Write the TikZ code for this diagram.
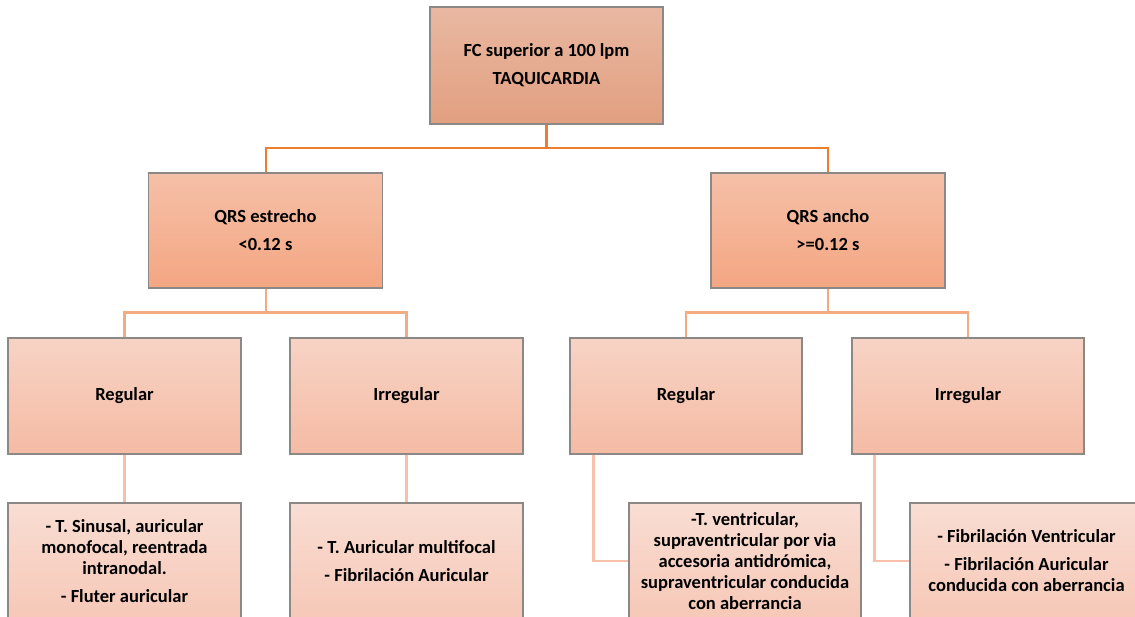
\documentclass[tikz,border=0pt]{standalone}
\usepackage{fontspec}
\setmainfont{Carlito}
\definecolor{t1a}{RGB}{233,184,162}
\definecolor{t1b}{RGB}{226,159,128}
\definecolor{t2a}{RGB}{245,192,168}
\definecolor{t2b}{RGB}{244,166,130}
\definecolor{t3a}{RGB}{247,211,197}
\definecolor{t3b}{RGB}{245,187,164}
\definecolor{t4a}{RGB}{249,221,211}
\definecolor{t4b}{RGB}{246,200,183}
\definecolor{bord}{RGB}{140,136,134}
\definecolor{ln1}{RGB}{237,125,49}
\definecolor{ln2}{RGB}{244,170,130}
\definecolor{ln3}{RGB}{247,192,170}
\tikzset{
  box/.style={rectangle, draw=bord, line width=1.1pt, inner sep=0pt,
    minimum width=233pt, minimum height=116pt, align=center,
    font=\fontsize{18.5}{21}\selectfont\bfseries},
  lvA/.style={box, top color=t1a, bottom color=t1b},
  lvB/.style={box, top color=t2a, bottom color=t2b},
  lvC/.style={box, top color=t3a, bottom color=t3b},
  lvD/.style={box, top color=t4a, bottom color=t4b},
  cA/.style={draw=ln1, line width=2.4pt},
  cB/.style={draw=ln2, line width=2.2pt},
  cC/.style={draw=ln3, line width=2.2pt},
}
\begin{document}
\begin{tikzpicture}[x=1pt,y=-1pt]
\useasboundingbox (0,0) rectangle (1135,616);
\clip (0,0) rectangle (1135,616);
% connectors first
\coordinate (h1) at (546.5,148);
% nodes
\node[lvA, minimum height=117pt] (top) at (546.5,65.5) {FC superior a 100 lpm\\[7pt]TAQUICARDIA};
\node[lvB, minimum width=234pt, minimum height=115pt] (qe) at (265.5,230.5) {QRS estrecho\\[7pt]<0.12 s};
\node[lvB, minimum width=234pt, minimum height=115pt] (qa) at (828,230.5) {QRS ancho\\[7pt]>=0.12 s};
\node[lvC] (r1) at (124.5,396) {Regular};
\node[lvC] (r2) at (406.5,396) {Irregular};
\node[lvC, minimum width=232pt] (r3) at (686,396) {Regular};
\node[lvC, minimum width=232pt] (r4) at (968,396) {Irregular};
\node[lvD] (b1) at (124.5,561) {- T. Sinusal, auricular\\monofocal, reentrada\\intranodal.\\[7pt]- Fluter auricular};
\node[lvD] (b2) at (406.5,561) {- T. Auricular multifocal\\[7pt]- Fibrilación Auricular};
\node[lvD, minimum width=232pt] (b3) at (745,561) {-T. ventricular,\\supraventricular por via\\accesoria antidrómica,\\supraventricular conducida\\con aberrancia};
\node[lvD] (b4) at (1026.5,561) {- Fibrilación Ventricular\\[7pt]- Fibrilación Auricular\\conducida con aberrancia};
% connectors
\draw[cA] (top.south) -- (h1) -| ([xshift=0.5pt]qe.north);
\draw[cA] (h1) -| (qa.north);
\draw[cB] ([xshift=0.5pt]qe.south) -- ++(0,24) -| (r1.north);
\draw[cB] ([xshift=0.5pt]qe.south) -- ++(0,24) -| (r2.north);
\draw[cB] (qa.south) -- ++(0,24) -| (r3.north);
\draw[cB] (qa.south) -- ++(0,24) -| (r4.north);
\draw[cC] (r1.south) -- (b1.north);
\draw[cC] (r2.south) -- (b2.north);
\draw[cC] (r3.south west) ++(24,0) |- (b3.west);
\draw[cC] (r4.south west) ++(23,0) |- (b4.west);
\end{tikzpicture}
\end{document}
